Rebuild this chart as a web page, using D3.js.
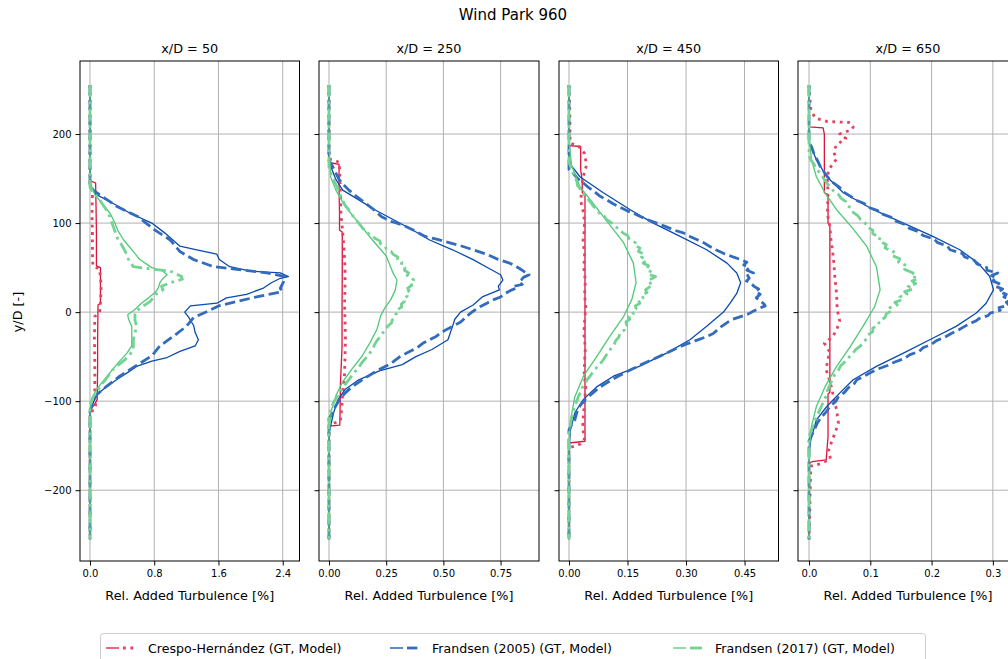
<!DOCTYPE html>
<html>
<head>
<meta charset="utf-8">
<script src="https://cdn.jsdelivr.net/npm/d3@7"></script>
<style>
  html, body { margin: 0; padding: 0; background: #ffffff; }
  svg { display: block; font-family: "DejaVu Sans", sans-serif; }
</style>
</head>
<body>
<svg id="chart" width="1008" height="659"></svg>
<script>
// Lateral profiles of relative added turbulence, [y/D, value] pairs (top to bottom)

const panelTitles = ["x/D = 50", "x/D = 250", "x/D = 450", "x/D = 650"];
const xTicks50 = [0, 0.8, 1.6, 2.4];
const xTicks250 = [0, 0.25, 0.5, 0.75];
const xTicks450 = [0, 0.15, 0.3, 0.45];
const xTicks650 = [0, 0.1, 0.2, 0.3];
const yTicks = [-200, -100, 0, 100, 200];
const legendLabels = ["Crespo-Hernández (GT, Model)", "Frandsen (2005) (GT, Model)", "Frandsen (2017) (GT, Model)"];

// x/D = 50
const crespoGT50 = [[255,0],[150,0],[147,0.01],[145,0.07],[120,0.075],[90,0.08],[60,0.08],[52,0.08],[50,0.13],[30,0.13],[10,0.13],[8,0.1],[-30,0.095],[-60,0.095],[-98,0.09],[-105,0.05],[-108,0.01],[-110,0],[-255,0]];
const crespoModel50 = [[255,0],[145,0],[142,0.03],[130,0.03],[110,0.025],[90,0.03],[70,0.03],[52,0.035],[48,0.12],[30,0.14],[10,0.13],[0,0.12],[-5,0.06],[-30,0.055],[-60,0.06],[-90,0.06],[-105,0.07],[-110,0.05],[-112,0],[-255,0]];
const frandsen05GT50 = [[255,0],[145,0],[139,0.02],[132,0.08],[122,0.29],[111,0.5],[100,0.77],[89,0.93],[74,1.12],[70,1.33],[65,1.58],[59,1.61],[51,1.74],[46,2.0],[44,2.37],[40,2.47],[38,2.37],[33,2.26],[27,2.16],[20,1.95],[16,1.70],[10,1.58],[7,1.25],[0,1.18],[-6,1.23],[-15,1.29],[-23,1.31],[-31,1.35],[-38,1.31],[-44,1.12],[-51,0.96],[-55,0.77],[-61,0.58],[-66,0.5],[-76,0.33],[-85,0.19],[-93,0.08],[-102,0.04],[-109,0.01],[-115,0],[-255,0]];
const frandsen05Model50 = [[255,0],[140,0],[137,0.04],[130,0.15],[119,0.33],[107,0.6],[92,0.81],[81,1.0],[68,1.12],[59,1.29],[51,1.54],[48,1.83],[44,2.2],[40,2.43],[34,2.41],[27,2.37],[23,2.39],[18,2.12],[12,1.83],[7,1.6],[1,1.47],[-6,1.29],[-16,1.2],[-27,1.04],[-38,0.87],[-49,0.77],[-61,0.56],[-72,0.37],[-83,0.21],[-93,0.08],[-100,0.04],[-106,0.02],[-112,0],[-255,0]];
const frandsen17GT50 = [[255,0],[150,0],[145,0.0],[132,0.06],[122,0.15],[111,0.25],[100,0.31],[91,0.35],[81,0.42],[68,0.54],[59,0.62],[50,0.77],[46,0.91],[42,0.96],[38,0.91],[33,0.87],[27,0.85],[22,0.81],[16,0.73],[10,0.64],[3,0.56],[-3,0.47],[-8,0.48],[-16,0.52],[-27,0.52],[-38,0.52],[-46,0.46],[-57,0.35],[-68,0.25],[-79,0.15],[-87,0.08],[-94,0.04],[-106,0.01],[-113,0],[-255,0]];
const frandsen17Model50 = [[255,0],[140,0],[137,0.02],[126,0.12],[111,0.23],[96,0.29],[81,0.35],[76,0.39],[68,0.44],[59,0.48],[51,0.54],[49,0.71],[46,1.0],[40,1.14],[37,1.15],[33,1.0],[29,0.89],[25,0.91],[20,0.82],[12,0.75],[6,0.65],[0,0.56],[-9,0.56],[-16,0.58],[-31,0.54],[-43,0.54],[-53,0.44],[-64,0.29],[-76,0.19],[-87,0.10],[-95,0.04],[-102,0.01],[-108,0],[-255,0]];

// x/D = 250
const crespoGT250 = [[255,0],[168,0],[166,0.044],[140,0.044],[110,0.046],[92,0.046],[90,0.058],[50,0.058],[0,0.057],[-40,0.057],[-80,0.05],[-120,0.048],[-127,0.047],[-128,0],[-255,0]];
const crespoModel250 = [[255,0],[172,0],[171,0.02],[168,0.045],[150,0.048],[130,0.05],[110,0.052],[90,0.06],[70,0.066],[50,0.07],[30,0.07],[10,0.068],[-10,0.07],[-30,0.072],[-50,0.07],[-70,0.068],[-90,0.06],[-110,0.055],[-122,0.05],[-125,0.02],[-127,0],[-255,0]];
const frandsen05GT250 = [[255,0],[170,0],[164,0.007],[149,0.03],[137,0.06],[126,0.13],[115,0.2],[104,0.28],[93,0.36],[81,0.44],[70,0.54],[59,0.63],[49,0.70],[42,0.75],[36,0.76],[29,0.74],[25,0.745],[17,0.67],[8,0.63],[0,0.575],[-8,0.55],[-16,0.54],[-31,0.52],[-42,0.45],[-50,0.38],[-59,0.32],[-66,0.22],[-76,0.13],[-87,0.07],[-98,0.04],[-113,0.02],[-128,0.007],[-135,0],[-255,0]];
const frandsen05Model250 = [[255,0],[170,0],[164,0.015],[157,0.028],[149,0.044],[143,0.064],[137,0.087],[130,0.12],[122,0.16],[115,0.196],[107,0.23],[102,0.27],[98,0.32],[92,0.37],[85,0.42],[82,0.47],[79,0.51],[75,0.57],[70,0.63],[65,0.69],[59,0.74],[55,0.79],[51,0.82],[47,0.845],[44,0.86],[42,0.875],[39,0.85],[36,0.84],[34,0.83],[31,0.845],[29,0.81],[27,0.82],[25,0.80],[21,0.77],[17,0.75],[14,0.72],[10,0.69],[6,0.66],[1,0.63],[-5,0.6],[-9,0.585],[-12,0.57],[-16,0.54],[-20,0.51],[-24,0.485],[-27,0.47],[-31,0.44],[-35,0.41],[-39,0.39],[-42,0.37],[-46,0.34],[-50,0.31],[-54,0.29],[-58,0.27],[-63,0.23],[-69,0.19],[-76,0.145],[-84,0.1],[-91,0.07],[-99,0.044],[-106,0.028],[-113,0.015],[-120,0],[-255,0]];
const frandsen17GT250 = [[255,0],[185,0],[152,0.007],[137,0.03],[119,0.07],[100,0.13],[81,0.19],[63,0.25],[44,0.28],[36,0.297],[25,0.29],[14,0.27],[5,0.245],[-4,0.226],[-19,0.21],[-34,0.18],[-49,0.146],[-64,0.10],[-79,0.058],[-94,0.03],[-109,0.012],[-125,0.002],[-132,0],[-255,0]];
const frandsen17Model250 = [[255,0],[160,0],[152,0.015],[146,0.025],[140,0.036],[134,0.044],[128,0.056],[122,0.066],[119,0.073],[115,0.086],[111,0.094],[107,0.108],[104,0.117],[100,0.13],[96,0.142],[92,0.155],[89,0.167],[86,0.19],[83,0.2],[80,0.222],[77,0.225],[74,0.246],[71,0.25],[68,0.272],[65,0.28],[62,0.3],[59,0.3],[56,0.318],[53,0.316],[50,0.332],[47,0.33],[44,0.348],[41,0.342],[38,0.362],[36,0.37],[33,0.356],[30,0.362],[27,0.344],[24,0.35],[21,0.336],[18,0.342],[15,0.326],[12,0.33],[9,0.316],[6,0.318],[3,0.302],[0,0.304],[-3,0.29],[-6,0.288],[-9,0.276],[-12,0.274],[-16,0.256],[-20,0.25],[-24,0.232],[-28,0.222],[-32,0.21],[-36,0.2],[-40,0.194],[-44,0.184],[-48,0.172],[-52,0.16],[-56,0.146],[-60,0.136],[-65,0.12],[-70,0.104],[-75,0.09],[-80,0.074],[-84,0.063],[-88,0.052],[-93,0.04],[-98,0.028],[-102,0.019],[-107,0.011],[-112,0.005],[-118,0],[-255,0]];

// x/D = 450
const crespoGT450 = [[255,0],[187,0],[186,0.03],[160,0.03],[147,0.034],[134,0.034],[132,0.041],[80,0.041],[0,0.041],[-80,0.041],[-145,0.041],[-147,0],[-255,0]];
const crespoModel450 = [[255,0],[230,0.002],[190,0.003],[186,0.025],[178,0.04],[165,0.045],[150,0.035],[140,0.033],[125,0.03],[110,0.038],[95,0.04],[80,0.036],[65,0.04],[50,0.038],[35,0.042],[20,0.04],[5,0.043],[-10,0.04],[-25,0.038],[-40,0.042],[-55,0.04],[-70,0.039],[-85,0.043],[-100,0.04],[-115,0.037],[-130,0.035],[-142,0.04],[-148,0.03],[-151,0.01],[-153,0],[-255,0]];
const frandsen05GT450 = [[255,0],[170,0],[164,0.007],[152,0.028],[134,0.088],[115,0.157],[100,0.216],[85,0.285],[70,0.353],[55,0.405],[44,0.43],[33,0.44],[21,0.43],[10,0.413],[0,0.396],[-16,0.353],[-31,0.31],[-46,0.25],[-61,0.18],[-72,0.114],[-84,0.071],[-98,0.037],[-113,0.015],[-132,0.004],[-151,0],[-255,0]];
const frandsen05Model450 = [[255,0],[160,0],[156,0.011],[150,0.022],[145,0.037],[140,0.05],[135,0.066],[130,0.08],[126,0.097],[122,0.112],[118,0.13],[114,0.148],[111,0.165],[107,0.184],[103,0.205],[100,0.225],[96,0.248],[92,0.27],[89,0.293],[85,0.31],[81,0.33],[78,0.345],[74,0.36],[70,0.376],[66,0.396],[62,0.42],[59,0.44],[56,0.456],[53,0.448],[50,0.462],[47,0.456],[44,0.473],[41,0.458],[38,0.462],[35,0.455],[32,0.468],[29,0.474],[26,0.486],[23,0.478],[20,0.49],[16,0.48],[12,0.492],[9,0.5],[7,0.503],[4,0.486],[1,0.472],[-2,0.46],[-5,0.44],[-8,0.42],[-11,0.408],[-14,0.398],[-17,0.388],[-20,0.38],[-24,0.37],[-28,0.35],[-32,0.325],[-36,0.3],[-40,0.278],[-44,0.26],[-48,0.24],[-52,0.22],[-56,0.2],[-60,0.18],[-64,0.162],[-68,0.144],[-72,0.126],[-76,0.11],[-80,0.095],[-84,0.08],[-89,0.066],[-94,0.052],[-99,0.04],[-104,0.03],[-110,0.022],[-116,0.018],[-121,0.015],[-128,0.005],[-132,0],[-255,0]];
const frandsen17GT450 = [[255,0],[190,0],[164,0.007],[141,0.028],[122,0.062],[100,0.101],[78,0.14],[55,0.165],[33,0.172],[14,0.161],[-5,0.14],[-27,0.105],[-50,0.071],[-72,0.037],[-95,0.015],[-121,0.004],[-147,0],[-255,0]];
const frandsen17Model450 = [[255,0],[168,0],[164,0.004],[158,0.008],[152,0.014],[147,0.02],[142,0.022],[138,0.03],[134,0.036],[130,0.042],[126,0.05],[122,0.058],[119,0.062],[115,0.072],[111,0.078],[108,0.09],[104,0.096],[100,0.11],[96,0.118],[93,0.13],[89,0.138],[86,0.15],[82,0.155],[78,0.17],[75,0.168],[72,0.182],[68,0.178],[65,0.192],[62,0.186],[58,0.198],[55,0.19],[52,0.204],[48,0.198],[45,0.212],[42,0.206],[40,0.222],[37,0.21],[34,0.216],[31,0.2],[28,0.206],[25,0.196],[22,0.2],[19,0.186],[16,0.19],[13,0.178],[10,0.182],[7,0.17],[4,0.172],[1,0.162],[-2,0.165],[-5,0.154],[-8,0.156],[-11,0.146],[-14,0.148],[-17,0.14],[-20,0.142],[-24,0.13],[-28,0.128],[-32,0.12],[-36,0.116],[-40,0.108],[-44,0.104],[-48,0.096],[-52,0.09],[-56,0.084],[-60,0.074],[-64,0.068],[-68,0.06],[-72,0.054],[-76,0.046],[-80,0.042],[-85,0.034],[-90,0.03],[-95,0.024],[-100,0.02],[-106,0.014],[-113,0.01],[-120,0.006],[-128,0.003],[-135,0],[-255,0]];

// x/D = 650
const crespoGT650 = [[255,0],[208,0],[207,0.023],[200,0.025],[160,0.025],[134,0.025],[132,0.031],[100,0.031],[98,0.034],[0,0.034],[-90,0.034],[-92,0.031],[-140,0.031],[-166,0.028],[-168,0.005],[-170,0],[-255,0]];
const crespoModel650 = [[255,0],[235,0.002],[227,0.003],[218,0.01],[214,0.03],[213,0.067],[208,0.072],[205,0.07],[200,0.05],[195,0.06],[188,0.045],[180,0.04],[172,0.045],[160,0.032],[150,0.03],[134,0.031],[110,0.03],[96,0.034],[80,0.036],[60,0.04],[40,0.042],[20,0.045],[3,0.046],[-10,0.05],[-20,0.045],[-28,0.038],[-35,0.025],[-45,0.034],[-55,0.03],[-65,0.028],[-80,0.035],[-95,0.04],[-110,0.045],[-125,0.048],[-140,0.04],[-155,0.032],[-165,0.035],[-170,0.02],[-173,0.003],[-255,0]];
const frandsen05GT650 = [[255,0],[190,0],[186,0.003],[171,0.012],[152,0.029],[134,0.056],[115,0.105],[100,0.154],[85,0.202],[70,0.246],[55,0.276],[40,0.295],[25,0.301],[10,0.289],[-1,0.273],[-16,0.24],[-31,0.197],[-46,0.154],[-61,0.11],[-76,0.072],[-91,0.05],[-106,0.029],[-121,0.012],[-143,0.003],[-158,0],[-255,0]];
const frandsen05Model650 = [[255,0],[190,0],[186,0.004],[178,0.008],[170,0.014],[164,0.018],[158,0.024],[152,0.03],[146,0.038],[140,0.05],[135,0.056],[130,0.068],[126,0.076],[122,0.09],[118,0.096],[114,0.112],[110,0.12],[106,0.136],[102,0.142],[98,0.158],[94,0.164],[90,0.18],[86,0.186],[82,0.204],[78,0.21],[74,0.226],[70,0.23],[66,0.25],[62,0.254],[58,0.27],[54,0.274],[50,0.29],[47,0.29],[44,0.308],[41,0.298],[38,0.306],[35,0.3],[32,0.31],[29,0.304],[26,0.316],[23,0.31],[20,0.322],[17,0.318],[14,0.33],[11,0.322],[8,0.326],[5,0.31],[2,0.312],[-1,0.296],[-4,0.292],[-7,0.278],[-10,0.272],[-13,0.262],[-16,0.254],[-20,0.244],[-24,0.232],[-28,0.222],[-32,0.208],[-36,0.2],[-40,0.186],[-44,0.18],[-48,0.164],[-52,0.156],[-56,0.14],[-60,0.128],[-64,0.112],[-68,0.1],[-72,0.09],[-76,0.078],[-80,0.074],[-85,0.064],[-90,0.058],[-95,0.048],[-100,0.044],[-106,0.034],[-112,0.028],[-118,0.02],[-124,0.014],[-130,0.01],[-136,0.006],[-145,0],[-255,0]];
const frandsen17GT650 = [[255,0],[197,0],[171,0.004],[152,0.012],[134,0.026],[115,0.045],[96,0.069],[74,0.094],[51,0.11],[25,0.116],[6,0.107],[-16,0.088],[-39,0.067],[-61,0.045],[-84,0.026],[-106,0.012],[-128,0.004],[-155,0],[-255,0]];
const frandsen17Model650 = [[255,0],[175,0],[171,0.003],[166,0.008],[161,0.012],[156,0.018],[152,0.022],[148,0.026],[144,0.03],[140,0.036],[136,0.04],[132,0.048],[128,0.052],[124,0.06],[120,0.062],[116,0.07],[112,0.072],[108,0.08],[104,0.084],[100,0.092],[96,0.094],[92,0.104],[88,0.104],[84,0.116],[80,0.114],[76,0.126],[72,0.124],[68,0.138],[64,0.134],[60,0.148],[56,0.146],[52,0.16],[48,0.156],[44,0.17],[41,0.166],[38,0.178],[35,0.168],[32,0.174],[29,0.162],[26,0.17],[23,0.156],[20,0.16],[17,0.148],[14,0.152],[11,0.14],[8,0.144],[5,0.132],[2,0.136],[-2,0.126],[-6,0.124],[-10,0.114],[-14,0.114],[-18,0.104],[-22,0.104],[-26,0.096],[-30,0.094],[-34,0.088],[-38,0.084],[-42,0.076],[-46,0.072],[-50,0.066],[-55,0.06],[-60,0.052],[-65,0.048],[-70,0.042],[-76,0.038],[-82,0.034],[-88,0.03],[-94,0.028],[-100,0.024],[-106,0.02],[-112,0.016],[-118,0.012],[-124,0.008],[-130,0.005],[-140,0],[-255,0]];

// ---- styles ----
const styles = {
  crespoGT:  { stroke: "#dc143c", width: 1.3, dash: null },
  crespoMod: { stroke: "#e34363", width: 2.8, dash: "2.8,4.6" },
  f05GT:     { stroke: "#0a4aae", width: 1.3, dash: null },
  f05Mod:    { stroke: "#336cbc", width: 2.8, dash: "10.4,4.5" },
  f17GT:     { stroke: "#50c878", width: 1.3, dash: null },
  f17Mod:    { stroke: "#73d393", width: 2.8, dash: "12,4.5,2.8,4.5" }
};

const panels = [
  { title: panelTitles[0], left: 80,  right: 299.5, xDomain: [-0.1245, 2.609], ticks: xTicks50,  fmt: d3.format(".1f"),
    series: [[crespoGT50,"crespoGT"],[crespoModel50,"crespoMod"],[frandsen05GT50,"f05GT"],[frandsen05Model50,"f05Mod"],[frandsen17GT50,"f17GT"],[frandsen17Model50,"f17Mod"]] },
  { title: panelTitles[1], left: 319, right: 539,   xDomain: [-0.0437, 0.918], ticks: xTicks250, fmt: d3.format(".2f"),
    series: [[crespoGT250,"crespoGT"],[crespoModel250,"crespoMod"],[frandsen05GT250,"f05GT"],[frandsen05Model250,"f05Mod"],[frandsen17GT250,"f17GT"],[frandsen17Model250,"f17Mod"]] },
  { title: panelTitles[2], left: 559, right: 778.5, xDomain: [-0.0256, 0.537], ticks: xTicks450, fmt: d3.format(".2f"),
    series: [[crespoGT450,"crespoGT"],[crespoModel450,"crespoMod"],[frandsen05GT450,"f05GT"],[frandsen05Model450,"f05Mod"],[frandsen17GT450,"f17GT"],[frandsen17Model450,"f17Mod"]] },
  { title: panelTitles[3], left: 798, right: 1018,  xDomain: [-0.018, 0.341],  ticks: xTicks650, fmt: d3.format(".1f"),
    series: [[crespoGT650,"crespoGT"],[crespoModel650,"crespoMod"],[frandsen05GT650,"f05GT"],[frandsen05Model650,"f05Mod"],[frandsen17GT650,"f17GT"],[frandsen17Model650,"f17Mod"]] }
];

const plotTop = 61, plotBottom = 561;
const svg = d3.select("#chart");
const minusFmt = d => (d < 0 ? "\u2212" + Math.abs(d) : String(d));

const y = d3.scaleLinear().domain([-279.5, 282]).range([plotBottom, plotTop]);

// suptitle
svg.append("text").attr("x", 513).attr("y", 20).attr("text-anchor", "middle")
  .attr("font-size", 15).attr("fill", "#000").text("Wind Park 960");

// y label
svg.append("text").attr("transform", "translate(22,312) rotate(-90)")
  .attr("text-anchor", "middle").attr("font-size", 12.8).attr("fill", "#000").text("y/D [-]");

panels.forEach((p, i) => {
  const x = d3.scaleLinear().domain(p.xDomain).range([p.left, p.right]);
  const g = svg.append("g");

  // grid
  g.selectAll(".gx").data(p.ticks).join("line")
    .attr("x1", d => x(d)).attr("x2", d => x(d)).attr("y1", plotTop).attr("y2", plotBottom)
    .attr("stroke", "#b0b0b0").attr("stroke-width", 1);
  g.selectAll(".gy").data(yTicks).join("line")
    .attr("x1", p.left).attr("x2", p.right).attr("y1", d => y(d)).attr("y2", d => y(d))
    .attr("stroke", "#b0b0b0").attr("stroke-width", 1);

  // clip
  const clipId = "clip" + i;
  svg.append("clipPath").attr("id", clipId).append("rect")
    .attr("x", p.left).attr("y", plotTop).attr("width", p.right - p.left).attr("height", plotBottom - plotTop);

  const line = d3.line().x(d => x(d[1])).y(d => y(d[0]));
  const lg = g.append("g").attr("clip-path", `url(#${clipId})`);
  p.series.forEach(([data, key]) => {
    const s = styles[key];
    lg.append("path").datum(data).attr("d", line)
      .attr("fill", "none").attr("stroke", s.stroke).attr("stroke-width", s.width)
      .attr("stroke-dasharray", s.dash).attr("stroke-linejoin", "round");
  });

  // x axis
  const xa = g.append("g").attr("transform", `translate(0,${plotBottom})`)
    .call(d3.axisBottom(x).tickValues(p.ticks).tickFormat(p.fmt).tickSize(4.5).tickPadding(4));
  xa.select(".domain").remove();
  xa.selectAll("line").attr("stroke", "#000").attr("stroke-width", 1);
  xa.selectAll("text").attr("font-size", 10).attr("font-family", "DejaVu Sans").attr("fill", "#000");

  // y axis
  const ya = g.append("g").attr("transform", `translate(${p.left},0)`)
    .call(d3.axisLeft(y).tickValues(yTicks).tickFormat(i === 0 ? minusFmt : "").tickSize(4.5).tickPadding(4));
  ya.select(".domain").remove();
  ya.selectAll("line").attr("stroke", "#000").attr("stroke-width", 1);
  ya.selectAll("text").attr("font-size", 10).attr("font-family", "DejaVu Sans").attr("fill", "#000");

  // frame
  g.append("rect").attr("x", p.left).attr("y", plotTop).attr("width", p.right - p.left).attr("height", plotBottom - plotTop)
    .attr("fill", "none").attr("stroke", "#000").attr("stroke-width", 1);

  // titles
  g.append("text").attr("x", (p.left + p.right) / 2).attr("y", 53).attr("text-anchor", "middle")
    .attr("font-size", 12.8).attr("fill", "#000").text(p.title);
  g.append("text").attr("x", (p.left + p.right) / 2).attr("y", 600).attr("text-anchor", "middle")
    .attr("font-size", 12.8).attr("fill", "#000").text("Rel. Added Turbulence [%]");
});

// legend
const leg = svg.append("g");
leg.append("rect").attr("x", 100.5).attr("y", 633.5).attr("width", 825).attr("height", 34).attr("rx", 3)
  .attr("fill", "#fff").attr("stroke", "#cccccc").attr("stroke-width", 1);
const legendItems = [
  { x0: 106, gt: styles.crespoGT, mod: styles.crespoMod, label: legendLabels[0] },
  { x0: 390, gt: styles.f05GT,    mod: styles.f05Mod,    label: legendLabels[1] },
  { x0: 673, gt: styles.f17GT,    mod: styles.f17Mod,    label: legendLabels[2] }
];
legendItems.forEach(it => {
  const ly = 648;
  leg.append("line").attr("x1", it.x0).attr("x2", it.x0 + 13).attr("y1", ly).attr("y2", ly)
    .attr("stroke", it.gt.stroke).attr("stroke-width", it.gt.width);
  leg.append("line").attr("x1", it.x0 + 17).attr("x2", it.x0 + 30).attr("y1", ly).attr("y2", ly)
    .attr("stroke", it.mod.stroke).attr("stroke-width", it.mod.width).attr("stroke-dasharray", it.mod.dash);
  leg.append("text").attr("x", it.x0 + 42).attr("y", ly + 4.5).attr("font-size", 12.6).attr("fill", "#000").text(it.label);
});
</script>
</body>
</html>
